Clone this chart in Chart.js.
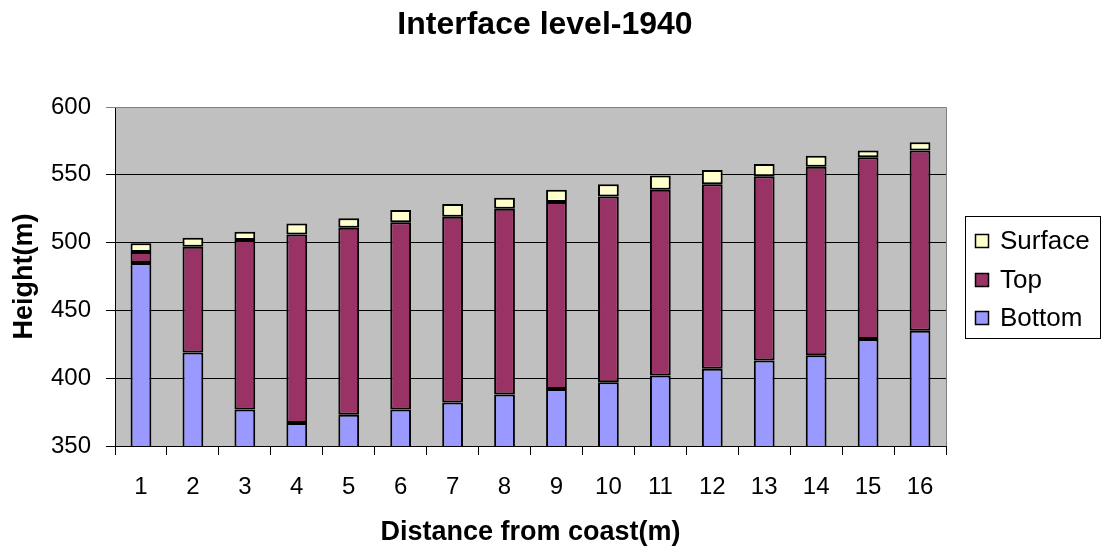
<!DOCTYPE html>
<html>
<head>
<meta charset="utf-8">
<script src="https://cdn.jsdelivr.net/npm/chart.js@4.4.0/dist/chart.umd.min.js"></script>
<style>
  html, body { margin: 0; padding: 0; background: #ffffff; }
  #wrap { width: 1102px; height: 547px; }
</style>
</head>
<body>
<div id="wrap"><canvas id="c" width="1102" height="547"></canvas></div>
<script>
const categories = ['1','2','3','4','5','6','7','8','9','10','11','12','13','14','15','16'];
const bottomValues  = [485, 419, 377, 367, 373, 377, 382, 388, 392, 397, 402, 407, 413, 417, 429, 435];
const topValues     = [8, 78, 125, 139, 138, 138, 137, 137, 138, 137, 137, 136, 136, 139, 134, 133];
const surfaceValues = [6.5, 6.5, 6, 8, 7, 9, 9.5, 8, 9, 9, 10.5, 10.5, 9, 8, 5, 6];
const yTicks = [350, 400, 450, 500, 550, 600];

const FONT = "'Liberation Sans', Arial, sans-serif";

const plotBg = {
  id: 'plotBg',
  beforeDraw(chart) {
    const {ctx, chartArea: a} = chart;
    ctx.save();
    ctx.fillStyle = '#C0C0C0';
    ctx.fillRect(a.left, a.top, a.right - a.left, a.bottom - a.top);
    ctx.restore();
  },
  afterDraw(chart) {
    const {ctx, chartArea: a} = chart;
    ctx.save();
    ctx.strokeStyle = '#808080';
    ctx.lineWidth = 1;
    ctx.beginPath();
    ctx.moveTo(a.left, a.top + 0.5);
    ctx.lineTo(a.right + 0.5, a.top + 0.5);
    ctx.lineTo(a.right + 0.5, a.bottom);
    ctx.stroke();
    ctx.restore();
  }
};

const boxLegend = {
  id: 'boxLegend',
  afterDraw(chart) {
    const ctx = chart.ctx;
    const x0 = 965.5, y0 = 216.5, w = 135, h = 122;
    ctx.save();
    ctx.fillStyle = '#ffffff';
    ctx.fillRect(x0, y0, w, h);
    ctx.strokeStyle = '#000000';
    ctx.lineWidth = 1;
    ctx.strokeRect(x0, y0, w, h);
    const items = chart.data.datasets.slice().reverse();
    const rowY = [241, 280, 318];
    ctx.font = '26px ' + FONT;
    ctx.textBaseline = 'middle';
    ctx.textAlign = 'left';
    items.forEach((ds, i) => {
      const cy = rowY[i];
      ctx.fillStyle = ds.backgroundColor;
      ctx.fillRect(975.5, cy - 6.5, 13, 13);
      ctx.strokeStyle = '#000000';
      ctx.lineWidth = 1.5;
      ctx.strokeRect(975.5, cy - 6.5, 13, 13);
      ctx.fillStyle = '#000000';
      ctx.fillText(ds.label, 1000, cy + 1);
    });
    ctx.restore();
  }
};

const common = { borderColor: '#000000', borderWidth: 2, borderSkipped: false, barPercentage: 0.4, categoryPercentage: 1.0 };

new Chart(document.getElementById('c'), {
  type: 'bar',
  data: {
    labels: categories,
    datasets: [
      Object.assign({ label: 'Bottom', data: bottomValues, backgroundColor: '#9999FF' }, common),
      Object.assign({ label: 'Top', data: topValues, backgroundColor: '#993366' }, common),
      Object.assign({ label: 'Surface', data: surfaceValues, backgroundColor: '#FFFFCC' }, common)
    ]
  },
  options: {
    responsive: false,
    animation: false,
    devicePixelRatio: 1,
    layout: { padding: { left: 0, right: 12, top: 0, bottom: 0 } },
    plugins: {
      legend: { display: false },
      tooltip: { enabled: false },
      title: {
        display: true,
        text: 'Interface level-1940',
        color: '#000000',
        font: { family: FONT, size: 32, weight: 'bold', lineHeight: 1.2 },
        padding: { top: 5.5, bottom: 63.1 }
      }
    },
    scales: {
      x: {
        stacked: true,
        offset: true,
        grid: { display: true, drawOnChartArea: false, drawTicks: true, tickLength: 9, color: '#000000', offset: true },
        border: { display: true, color: '#000000', width: 1 },
        ticks: { color: '#000000', font: { family: FONT, size: 24, lineHeight: 1.2 }, padding: 18, maxRotation: 0, autoSkip: false },
        title: { display: true, text: 'Distance from coast(m)', color: '#000000', font: { family: FONT, size: 27, weight: 'bold', lineHeight: 1.1 }, padding: { top: 0, bottom: 0 } },
        afterFit(scale) { scale.height = 101; }
      },
      y: {
        stacked: true,
        min: 350,
        max: 600,
        afterBuildTicks(scale) { scale.ticks = yTicks.map(v => ({ value: v })); },
        grid: {
          drawTicks: true,
          tickLength: 9,
          color: (c) => (c.tick && c.tick.value === 600) ? '#808080' : '#000000',
          lineWidth: 1
        },
        border: { display: true, color: '#000000', width: 1 },
        ticks: { color: '#000000', font: { family: FONT, size: 24, lineHeight: 1.2 }, padding: 15 },
        title: { display: true, text: 'Height(m)', color: '#000000', font: { family: FONT, size: 27, weight: 'bold', lineHeight: 1.1 }, padding: { top: 10, bottom: 0 } },
        afterFit(scale) { scale.width = 115; }
      },
      legendSpace: {
        type: 'linear',
        position: 'right',
        display: true,
        min: 350,
        max: 600,
        grid: { display: false, drawTicks: false },
        border: { display: false },
        ticks: { display: false },
        afterFit(scale) { scale.width = 144; }
      }
    }
  },
  plugins: [plotBg, boxLegend]
});
</script>
</body>
</html>
